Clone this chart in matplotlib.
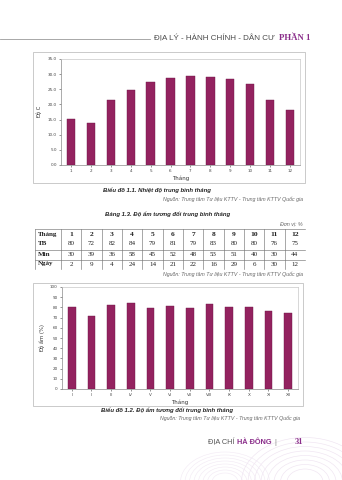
import matplotlib.pyplot as plt
from matplotlib.patches import Rectangle, Arc

months = ['1', '2', '3', '4', '5', '6', '7', '8', '9', '10', '11', '12']
roman = ['I', 'II', 'III', 'IV', 'V', 'VI', 'VII', 'VIII', 'IX', 'X', 'XI', 'XII']
temp = [15.2, 13.8, 21.5, 24.6, 27.5, 28.6, 29.4, 29.1, 28.3, 26.6, 21.4, 18.3]
hum_tb = [80, 72, 82, 84, 79, 81, 79, 83, 80, 80, 76, 75]
hum_min = [30, 39, 36, 58, 45, 52, 48, 53, 51, 40, 30, 44]
hum_day = [2, 9, 4, 24, 14, 21, 22, 16, 29, 6, 30, 12]

W, H = 342, 480
BAR = '#93225f'
EDGE = '#6e1646'
SANS = 'Liberation Sans'
SERIF = 'Liberation Serif'
source = 'Nguồn: Trung tâm Tư liệu KTTV - Trung tâm KTTV Quốc gia'

fig = plt.figure(figsize=(W / 100, H / 100), dpi=100)
fig.patch.set_facecolor('white')

# page layer in pixel coordinates
page = fig.add_axes([0, 0, 1, 1])
page.set_xlim(0, W)
page.set_ylim(H, 0)
page.axis('off')


def rect(x0, y0, x1, y1):
    return [x0 / W, 1 - y1 / H, (x1 - x0) / W, (y1 - y0) / H]


# header
page.plot([0, 150], [38.5, 38.5], color='#9a9a9a', lw=0.6)
page.text(275, 38.5, 'ĐỊA LÝ - HÀNH CHÍNH - DÂN CƯ', ha='right', va='center',
          fontsize=5.8, color='#4a4a4a', family=SANS)
page.text(279, 38.5, 'PHẦN 1', ha='left', va='center', fontsize=6.3,
          color='#8a2d8a', family=SERIF, weight='bold')

# chart frames
page.add_patch(Rectangle((33, 52), 272, 131, fill=False, ec='#b5b5b5', lw=0.5))
page.add_patch(Rectangle((33, 283), 270, 123, fill=False, ec='#b5b5b5', lw=0.5))


def style_axes(ax):
    for s in ax.spines.values():
        s.set_color('#c8c8c8')
        s.set_linewidth(0.5)
    ax.spines['left'].set_color('#8a8a8a')
    ax.spines['bottom'].set_color('#8a8a8a')
    ax.tick_params(labelsize=3, colors='#444444', length=1.5, width=0.4, pad=1.5)


# chart 1: temperature
ax1 = fig.add_axes(rect(61, 59, 300, 165))
x = range(len(months))
ax1.bar(x, temp, width=0.42, color=BAR, edgecolor=EDGE, linewidth=0.3)
ax1.set_xlim(-0.5, 11.5)
ax1.set_ylim(0, 35)
ax1.set_yticks(range(0, 36, 5))
ax1.set_yticklabels(['%.1f' % v for v in range(0, 36, 5)])
ax1.set_xticks(list(x))
ax1.set_xticklabels(months)
style_axes(ax1)
ax1.set_ylabel('Độ C', fontsize=3.8, labelpad=4, color='#333333')
ax1.set_xlabel('Tháng', fontsize=4, labelpad=2, color='#333333')

page.text(157, 190, 'Biểu đồ 1.1. Nhiệt độ trung bình tháng', ha='center', va='center',
          fontsize=4.3, style='italic', weight='bold', family=SANS, color='#222222')
page.text(303, 199, source, ha='right', va='center', fontsize=3.8,
          style='italic', family=SANS, color='#666666')

# table
page.text(168, 214, 'Bảng 1.3. Độ ẩm tương đối trung bình tháng', ha='center', va='center',
          fontsize=4.3, style='italic', weight='bold', family=SANS, color='#222222')
page.text(303, 224, 'Đơn vị: %', ha='right', va='center', fontsize=3.8,
          style='italic', family=SANS, color='#666666')

tx0, tx1, tcol0 = 35, 305, 61
cw = (tx1 - tcol0) / 12
row_y = [234.5, 243.5, 254.5, 264]
for y in [229, 249.5, 259.5]:
    page.plot([tx0, tx1], [y, y], color='#777777', lw=0.45)
page.plot([tx0, tx0], [229, 269], color='#777777', lw=0.45)
for i in range(12):
    xl = tcol0 + i * cw
    page.plot([xl, xl], [229, 269], color='#777777', lw=0.45)

labels = ['Tháng', 'TB', 'Min', 'Ngày']
rows = [months, hum_tb, hum_min, hum_day]
for r, (lab, vals) in enumerate(zip(labels, rows)):
    page.text(tx0 + 2.5, row_y[r], lab, ha='left', va='center', fontsize=5.0,
              family=SERIF, weight='bold', color='#222222')
    for i, v in enumerate(vals):
        page.text(tcol0 + (i + 0.5) * cw, row_y[r], str(v), ha='center', va='center',
                  fontsize=5.4 if r == 0 else 5.0, family=SERIF,
                  weight='bold' if r == 0 else 'normal', color='#222222')
page.text(303, 274, source, ha='right', va='center', fontsize=3.8,
          style='italic', family=SANS, color='#666666')

# chart 2: humidity
ax2 = fig.add_axes(rect(62, 287, 298, 389))
ax2.bar(x, hum_tb, width=0.4, color=BAR, edgecolor=EDGE, linewidth=0.3)
ax2.set_xlim(-0.5, 11.5)
ax2.set_ylim(0, 100)
ax2.set_yticks(range(0, 101, 10))
ax2.set_xticks(list(x))
ax2.set_xticklabels(roman)
style_axes(ax2)
ax2.set_ylabel('Độ ẩm (%)', fontsize=3.8, labelpad=4, color='#333333')
ax2.set_xlabel('Tháng', fontsize=4, labelpad=2, color='#333333')

page.text(167, 410, 'Biểu đồ 1.2. Độ ẩm tương đối trung bình tháng', ha='center', va='center',
          fontsize=4.3, style='italic', weight='bold', family=SANS, color='#222222')
page.text(300, 418, source, ha='right', va='center', fontsize=3.8,
          style='italic', family=SANS, color='#666666')

# decorative waves bottom right
for k in range(8):
    page.add_patch(Arc((305, 482), 36 + k * 13, 26 + k * 9, theta1=180, theta2=360,
                       color='#efe4f1', lw=0.45))
    page.add_patch(Arc((225, 482), 26 + k * 9, 18 + k * 6, theta1=180, theta2=360,
                       color='#f2e9f4', lw=0.4))

# footer
page.text(236, 442.5, 'ĐỊA CHÍ ', ha='right', va='center', fontsize=5.3,
          family=SANS, color='#555555')
page.text(237, 442.5, 'HÀ ĐÔNG', ha='left', va='center', fontsize=5.3,
          family=SANS, weight='bold', color='#8a2d8a')
page.text(274, 442.5, '|', ha='left', va='center', fontsize=5.3,
          family=SANS, color='#888888')
page.text(303, 442.5, '31', ha='right', va='center', fontsize=6,
          family=SERIF, weight='bold', color='#8a2d8a')

fig.savefig('out.png', dpi=100)
